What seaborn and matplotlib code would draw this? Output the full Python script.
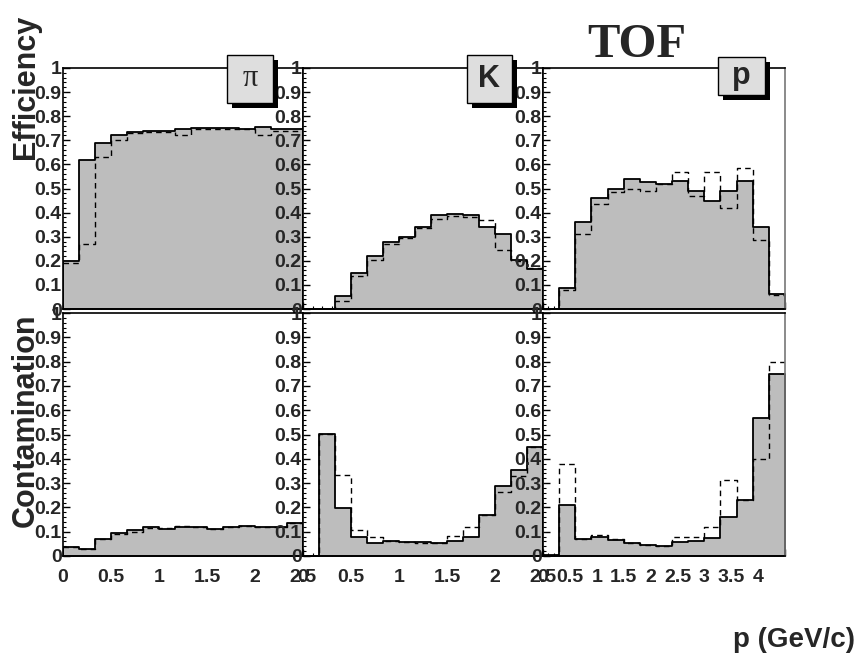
import numpy as np
import pandas as pd
import matplotlib
matplotlib.use("Agg")
import matplotlib.pyplot as plt
import seaborn as sns
from matplotlib.patches import Rectangle
from matplotlib.ticker import MultipleLocator, FuncFormatter

# ---------------- data ----------------
particles = ["\u03c0", "K", "p"]
pi_edges = np.linspace(0, 2.5, 16)
k_edges = np.linspace(0, 2.5, 16)
p_edges = np.linspace(0, 4.5, 16)

pi_eff_solid = [0.20, 0.62, 0.69, 0.72, 0.735, 0.74, 0.74, 0.745, 0.75, 0.75, 0.75, 0.745, 0.755, 0.745, 0.745]
pi_eff_dashed = [0.19, 0.27, 0.63, 0.70, 0.73, 0.735, 0.735, 0.72, 0.745, 0.745, 0.745, 0.745, 0.72, 0.74, 0.74]
k_eff_solid = [0.0, 0.0, 0.055, 0.15, 0.22, 0.28, 0.30, 0.34, 0.39, 0.395, 0.39, 0.34, 0.31, 0.205, 0.165]
k_eff_dashed = [0.0, 0.0, 0.035, 0.135, 0.205, 0.27, 0.295, 0.335, 0.375, 0.385, 0.38, 0.37, 0.245, 0.20, 0.17]
p_eff_solid = [0.0, 0.088, 0.36, 0.46, 0.50, 0.54, 0.525, 0.52, 0.53, 0.49, 0.45, 0.49, 0.53, 0.34, 0.064]
p_eff_dashed = [0.0, 0.08, 0.31, 0.435, 0.485, 0.50, 0.49, 0.52, 0.57, 0.47, 0.57, 0.42, 0.585, 0.285, 0.06]

pi_con_solid = [0.036, 0.027, 0.068, 0.093, 0.105, 0.12, 0.11, 0.12, 0.118, 0.11, 0.12, 0.125, 0.118, 0.12, 0.137]
pi_con_dashed = [0.036, 0.027, 0.068, 0.09, 0.10, 0.115, 0.115, 0.125, 0.118, 0.113, 0.12, 0.122, 0.12, 0.12, 0.135]
k_con_solid = [0.0, 0.504, 0.196, 0.077, 0.055, 0.063, 0.059, 0.057, 0.052, 0.06, 0.08, 0.168, 0.288, 0.353, 0.45]
k_con_dashed = [0.0, 0.504, 0.333, 0.107, 0.077, 0.06, 0.057, 0.055, 0.055, 0.082, 0.12, 0.168, 0.264, 0.33, 0.45]
p_con_solid = [0.003, 0.21, 0.07, 0.08, 0.066, 0.052, 0.045, 0.041, 0.059, 0.063, 0.073, 0.162, 0.23, 0.566, 0.748]
p_con_dashed = [0.003, 0.38, 0.07, 0.085, 0.07, 0.055, 0.045, 0.041, 0.08, 0.08, 0.118, 0.312, 0.23, 0.40, 0.80]

row_titles = ["Efficiency", "Contamination"]
x_title = "p (GeV/c)"
main_title = "TOF"

# ---------------- style ----------------
sns.set_style("white")
plt.rcParams["font.family"] = ["Liberation Sans", "DejaVu Sans"]
plt.rcParams["font.weight"] = "bold"

GREY = "#bdbdbd"
W, H = 858, 655
fig = plt.figure(figsize=(W / 100, H / 100), dpi=100)


def rect(x0, y0, x1, y1):
    return [x0 / W, 1 - y1 / H, (x1 - x0) / W, (y1 - y0) / H]


cols = [(63, 303), (303, 543), (543, 785)]
rows = [(68, 309), (313, 556)]
edges_list = [pi_edges, k_edges, p_edges]
xmax_list = [2.5, 2.5, 4.5]
data = [
    [(pi_eff_solid, pi_eff_dashed), (k_eff_solid, k_eff_dashed), (p_eff_solid, p_eff_dashed)],
    [(pi_con_solid, pi_con_dashed), (k_con_solid, k_con_dashed), (p_con_solid, p_con_dashed)],
]


def fmt_factory(xmax_label):
    def f(v, pos):
        if v > xmax_label + 1e-6:
            return ""
        return f"{v:g}"
    return f


for r, (y0, y1) in enumerate(rows):
    for c, (x0, x1) in enumerate(cols):
        ax = fig.add_axes(rect(x0, y0, x1, y1))
        edges = edges_list[c]
        centers = 0.5 * (edges[:-1] + edges[1:])
        solid, dashed = data[r][c]
        df = pd.DataFrame({"p": centers, "solid": solid, "dashed": dashed})
        bin_list = [float(e) for e in edges]
        sns.histplot(data=df, x="p", weights="solid", bins=bin_list, element="step", fill=True,
                     color=GREY, alpha=1, edgecolor="black", linewidth=1.3, ax=ax)
        sns.histplot(data=df, x="p", weights="dashed", bins=bin_list, element="step", fill=False,
                     color="black", linestyle=(0, (4, 3)), linewidth=1.0, ax=ax)
        ax.set_xlim(0, xmax_list[c])
        ax.set_ylim(0, 1)
        ax.set_xlabel("")
        ax.set_ylabel("")
        ax.xaxis.set_major_locator(MultipleLocator(0.5))
        ax.xaxis.set_minor_locator(MultipleLocator(0.1))
        ax.yaxis.set_major_locator(MultipleLocator(0.1))
        ax.yaxis.set_minor_locator(MultipleLocator(0.02))
        ax.yaxis.set_major_formatter(FuncFormatter(lambda v, p: f"{v:g}"))
        ax.xaxis.set_major_formatter(FuncFormatter(fmt_factory(4.0 if c == 2 else 2.5)))
        ax.tick_params(axis="both", which="major", direction="in", length=5, width=1,
                       labelsize=14, color="black")
        ax.tick_params(axis="both", which="minor", direction="in", length=2.5, width=0.8,
                       color="black")
        ax.tick_params(axis="y", which="both", pad=1, left=True, right=False)
        ax.tick_params(axis="x", which="both", pad=9, bottom=True, top=False)
        if r == 0:
            ax.tick_params(labelbottom=False)
        for s in ax.spines.values():
            s.set_color("black")
            s.set_linewidth(1.2)
        if c == 2:
            ax.spines["right"].set_color("#777777")

# particle label boxes
boxes = [(227, 55, 273, 103), (467, 55, 512, 103), (718, 57, 765, 95)]
for (bx0, by0, bx1, by1), lab in zip(boxes, particles):
    sh = 5
    fig.patches.append(Rectangle(((bx0 + sh) / W, 1 - (by1 + sh) / H), (bx1 - bx0) / W,
                                 (by1 - by0) / H, transform=fig.transFigure,
                                 facecolor="black", edgecolor="none", zorder=5))
    fig.patches.append(Rectangle((bx0 / W, 1 - by1 / H), (bx1 - bx0) / W, (by1 - by0) / H,
                                 transform=fig.transFigure, facecolor="#dedede",
                                 edgecolor="black", linewidth=1, zorder=6))
    if lab == "\u03c0":
        fam, size, wt = ["Liberation Serif", "DejaVu Serif"], 22, "normal"
    else:
        fam, size, wt = ["Liberation Sans", "DejaVu Sans"], 22, "bold"
    fig.text((bx0 + bx1) / 2 / W, 1 - (by0 + by1) / 2 / H, lab, ha="center", va="center",
             fontsize=size, family=fam, fontweight=wt, zorder=7)

fig.text(26 / W, 1 - 87 / H, row_titles[0], rotation=90, fontsize=22, fontweight="bold",
         ha="center", va="center")
fig.text(26 / W, 1 - 420 / H, row_titles[1], rotation=90, fontsize=22, fontweight="bold",
         ha="center", va="center")
fig.text(637 / W, 1 - 57 / H, main_title, family=["Liberation Serif", "DejaVu Serif"],
         fontweight="bold", fontsize=35, ha="center", va="baseline")
fig.text(733 / W, 1 - 647 / H, x_title, fontsize=20, fontweight="bold", ha="left",
         va="baseline")

fig.savefig("out.png", dpi=100)
